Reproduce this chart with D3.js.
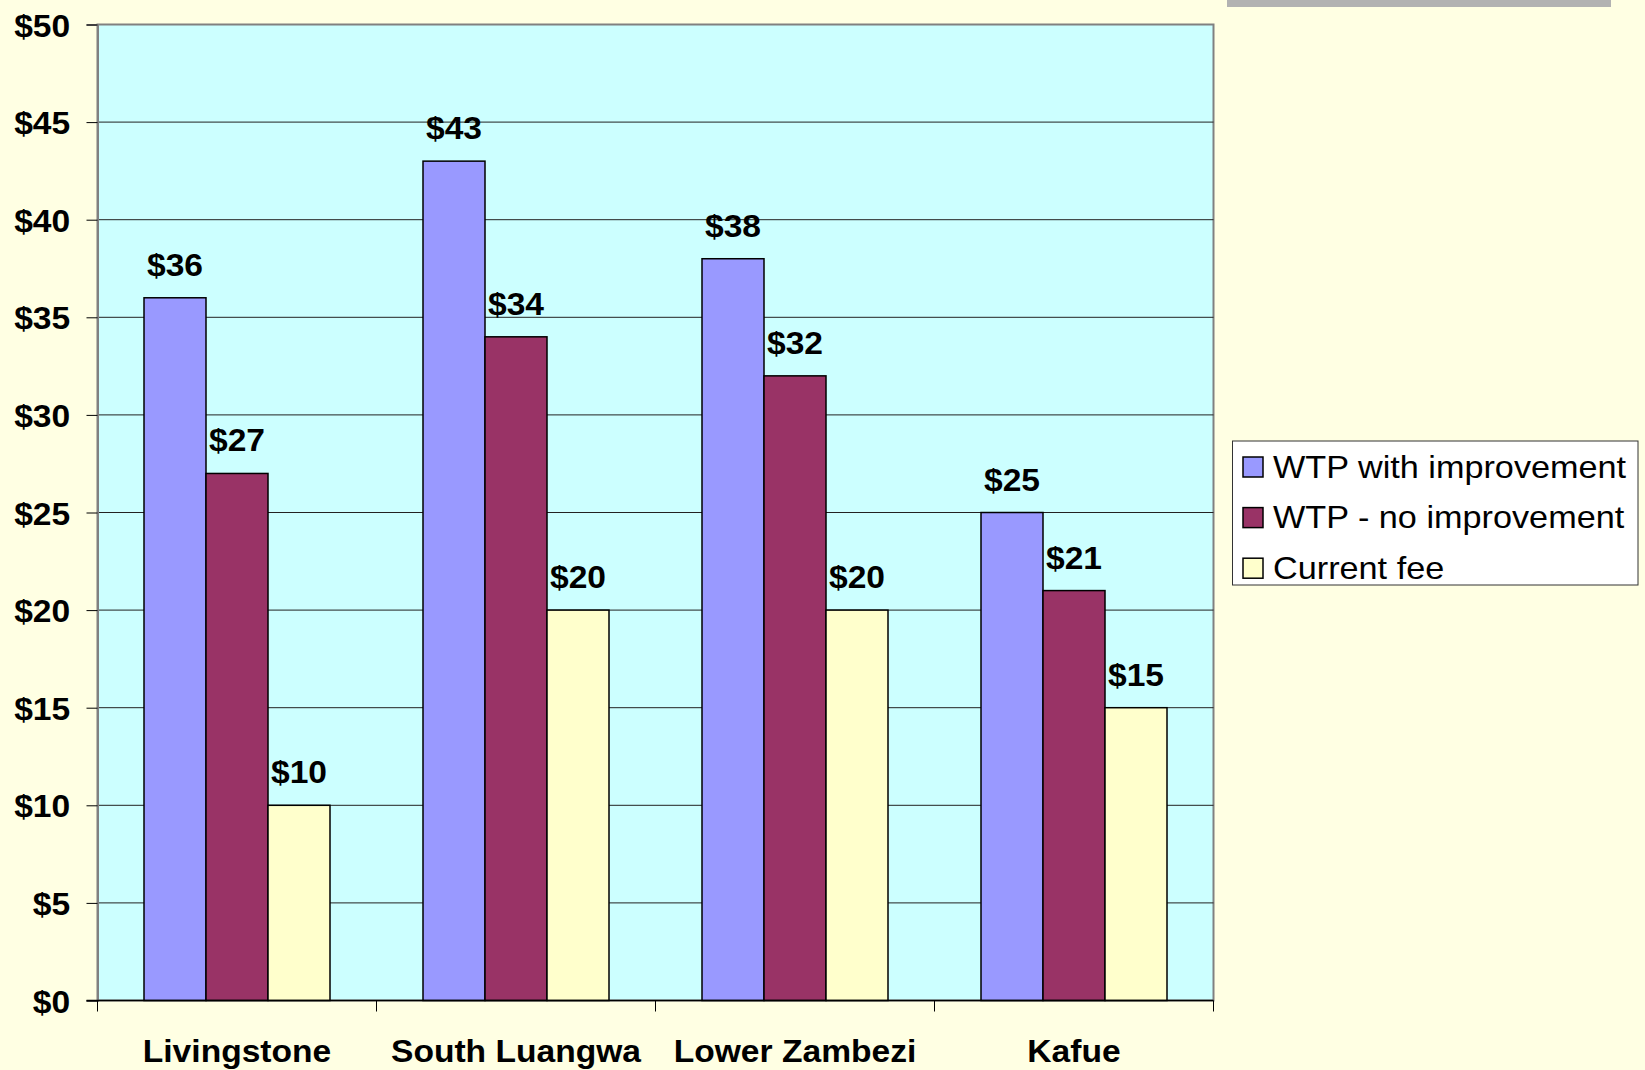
<!DOCTYPE html>
<html lang="en">
<head>
    <meta charset="UTF-8">
    <title>WTP park fees</title>
    <script src="https://cdn.jsdelivr.net/npm/d3@7"></script>
    <style>
      body { margin: 0; background: #FFFFE3; }
      text { font-family: "Liberation Sans", Arial, sans-serif; fill: #000; }
    </style>
</head>
<body>
    <script>
      const categories = ["Livingstone", "South Luangwa", "Lower Zambezi", "Kafue"];
      const seriesNames = ["WTP with improvement", "WTP - no improvement", "Current fee"];
      const withImprovement = [36, 43, 38, 25];
      const noImprovement = [27, 34, 32, 21];
      const currentFee = [10, 20, 20, 15];
      const yTicks = [0, 5, 10, 15, 20, 25, 30, 35, 40, 45, 50];

      const colors = ["#9999FF", "#993366", "#FFFFCC"];
      const series = [withImprovement, noImprovement, currentFee];

      const w = 1645;
      const h = 1070;
      const plotLeft = 97.5, plotRight = 1213.5, plotTop = 24.5, plotBottom = 1000.5;
      const fs = 32;
      const sx = 1.05; // text in the reference is a bit stretched sideways

      const svg = d3.select("body")
                    .append("svg")
                    .attr("width", w)
                    .attr("height", h);

      // grey strip at top right
      svg.append("rect")
         .attr("x", 1227).attr("y", 0)
         .attr("width", 384).attr("height", 7)
         .attr("fill", "#B2B2B2");

      const x0 = d3.scaleBand()
                   .domain(categories)
                   .range([plotLeft, plotRight]);

      const x1 = d3.scaleBand()
                   .domain(seriesNames)
                   .range([0, x0.bandwidth()])
                   .paddingOuter(0.75);

      const y = d3.scaleLinear()
                  .domain([0, 50])
                  .range([plotBottom, plotTop]);

      // plot area
      svg.append("rect")
         .attr("x", plotLeft).attr("y", plotTop)
         .attr("width", plotRight - plotLeft).attr("height", plotBottom - plotTop)
         .attr("fill", "#CCFFFF")
         .attr("stroke", "#808080")
         .attr("stroke-width", 2);

      // gridlines
      svg.selectAll("line.grid")
         .data(yTicks.filter(d => d > 0 && d < 50))
         .enter()
         .append("line")
         .attr("class", "grid")
         .attr("x1", plotLeft).attr("x2", plotRight)
         .attr("y1", d => y(d)).attr("y2", d => y(d))
         .attr("stroke", "#222")
         .attr("stroke-width", 1);

      // bars
      const rows = categories.map((c, i) => seriesNames.map((s, j) => ({cat: c, name: s, value: series[j][i], color: colors[j]})));

      const groups = svg.selectAll("g.cat")
         .data(rows)
         .enter()
         .append("g")
         .attr("class", "cat")
         .attr("transform", (d, i) => `translate(${x0(categories[i])},0)`);

      groups.selectAll("rect")
         .data(d => d)
         .enter()
         .append("rect")
         .attr("x", d => x1(d.name))
         .attr("y", d => y(d.value))
         .attr("width", x1.bandwidth())
         .attr("height", d => y(0) - y(d.value))
         .attr("fill", d => d.color)
         .attr("stroke", "#000")
         .attr("stroke-width", 1.5);

      groups.selectAll("text")
         .data(d => d)
         .enter()
         .append("text")
         .attr("text-anchor", "middle")
         .attr("font-weight", "bold")
         .attr("font-size", fs)
         .attr("transform", d => `translate(${x1(d.name) + x1.bandwidth() / 2},${y(d.value) - 22}) scale(${sx},1)`)
         .text(d => "$" + d.value);

      // y axis
      const yAxis = d3.axisLeft(y)
                      .tickValues(yTicks)
                      .tickFormat(d => "$" + d)
                      .tickSize(11);

      const gy = svg.append("g")
         .attr("transform", `translate(${plotLeft},0)`)
         .call(yAxis);
      gy.select(".domain").attr("stroke", "#808080").attr("stroke-width", 2);
      gy.selectAll(".tick line").attr("stroke", "#000");
      gy.selectAll(".tick text")
        .attr("x", -26)
        .attr("dy", "0.36em")
        .attr("font-size", fs)
        .attr("font-weight", "bold")
        .attr("font-family", "Liberation Sans, Arial, sans-serif")
        .attr("fill", "#000")
        .attr("transform", `scale(${sx},1)`);

      // x axis: line, ticks at band edges, labels at band centres
      svg.append("line")
         .attr("x1", plotLeft - 11).attr("x2", plotRight)
         .attr("y1", plotBottom).attr("y2", plotBottom)
         .attr("stroke", "#000").attr("stroke-width", 1.5);

      const edges = categories.map(c => x0(c)).concat([x0(categories[categories.length - 1]) + x0.bandwidth()]);
      svg.selectAll("line.xtick")
         .data(edges)
         .enter()
         .append("line")
         .attr("class", "xtick")
         .attr("x1", d => d).attr("x2", d => d)
         .attr("y1", plotBottom).attr("y2", plotBottom + 11)
         .attr("stroke", "#000");

      svg.selectAll("text.xlabel")
         .data(categories)
         .enter()
         .append("text")
         .attr("class", "xlabel")
         .attr("text-anchor", "middle")
         .attr("font-weight", "bold")
         .attr("font-size", fs)
         .attr("transform", d => `translate(${x0(d) + x0.bandwidth() / 2},1062) scale(${sx},1)`)
         .text(d => d);

      // legend
      const legend = svg.append("g")
         .attr("transform", "translate(1232.5,441)");

      legend.append("rect")
         .attr("width", 405.5).attr("height", 144)
         .attr("fill", "#FFFFFF")
         .attr("stroke", "#333")
         .attr("stroke-width", 1);

      const items = legend.selectAll("g.item")
         .data(seriesNames)
         .enter()
         .append("g")
         .attr("class", "item")
         .attr("transform", (d, i) => `translate(10.5,${16 + i * 50.6})`);

      items.append("rect")
         .attr("width", 20).attr("height", 20)
         .attr("fill", (d, i) => colors[i])
         .attr("stroke", "#000")
         .attr("stroke-width", 1.5);

      items.append("text")
         .attr("font-size", fs)
         .attr("transform", `translate(30,20.5) scale(1.07,1)`)
         .text(d => d);
    </script>
</body>
</html>
